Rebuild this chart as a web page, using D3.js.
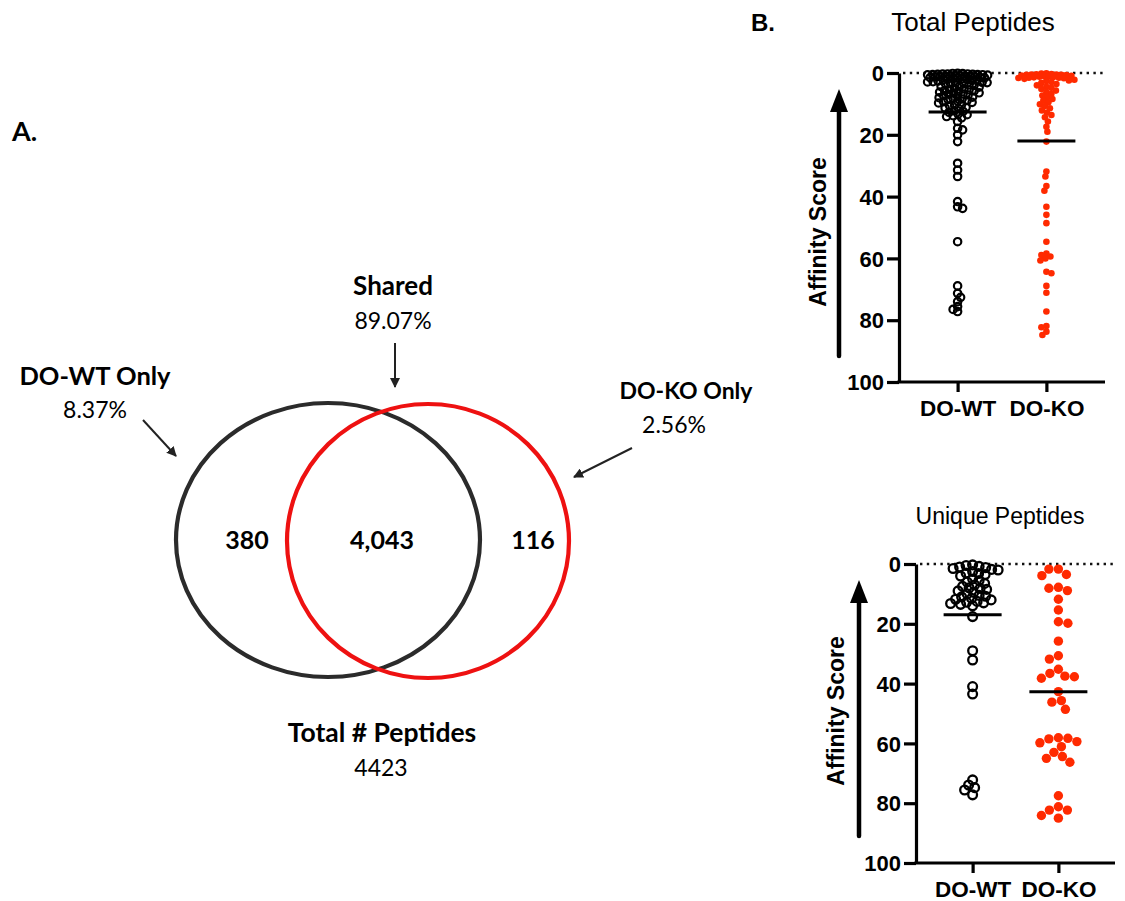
<!DOCTYPE html>
<html>
<head>
<meta charset="utf-8">
<script src="https://cdn.jsdelivr.net/npm/d3@7"></script>
<style>
  html, body { margin: 0; padding: 0; background: #fff; }
  svg { display: block; }
</style>
</head>
<body>
<svg id="chart" width="1125" height="901"></svg>
<script>
// ---------------- DATA ----------------
const groups = ["DO-WT", "DO-KO"];
const yTicks = [0, 20, 40, 60, 80, 100];

// Venn diagram (panel A)
const vennSets = ["DO-WT Only", "Shared", "DO-KO Only"];
const vennCounts = [380, 4043, 116];
const vennPercents = ["8.37%", "89.07%", "2.56%"];
const totalPeptides = 4423;

// Panel B – Total Peptides (affinity scores)
const totalWT = [0.2,0.3,0.4,0.5,0.6,0.7,0.8,0.9,1.0,0.1,0.5,0.3,0.15,0.35,0.55,0.75,0.95,0.45,
  1.1,1.2,1.3,1.5,1.6,1.8,1.9,1.4,1.7,1.2,
  2.0,2.2,2.4,2.6,2.8,2.1,2.5,2.9,
  3.0,3.2,3.4,3.6,3.8,3.1,3.5,
  4.0,4.3,4.6,4.9,4.4,
  5.1,5.4,5.7,5.9,5.3,5.8,
  6.2,6.5,6.8,6.4,6.9,
  7.1,7.5,7.8,7.3,
  8.2,8.6,8.9,8.4,8.0,
  9.3,9.7,9.1,9.5,
  10.2,10.6,10.4,
  11.1,11.5,11.3,
  12.2,12.7,12.4,
  13.3,13.8,13.5,
  14.5,14.1,
  15.7,17.9,18.4,20.0,22.2,29.2,31.4,33.5,41.6,43.3,43.8,54.6,68.9,71.3,72.6,74.0,75.6,76.5,77.2];
const totalKO = [0.2,0.4,0.6,0.8,0.3,0.5,0.7,0.9,0.1,0.5,1.0,0.6,
  1.1,1.3,1.5,1.7,1.9,1.2,1.6,1.4,1.5,
  2.2,2.6,2.9,2.4,
  3.2,3.6,4.0,4.5,4.8,
  5.2,5.7,6.2,6.7,
  7.3,7.8,8.4,8.9,
  9.5,10.1,10.7,
  11.4,12.1,12.8,
  13.6,14.3,
  15.7,17.4,19.0,22.2,31.9,33.5,36.6,38.1,43.3,45.9,48.6,54.6,58.4,58.9,59.4,60.0,60.7,
  64.3,64.8,68.9,71.1,77.2,81.9,82.3,83.7,84.8];

// Panel B – Unique Peptides (affinity scores)
const uniqueWT = [0.5,0.8,1.0,1.2,1.5,0.3,2.0,1.8,
  2.5,3.0,3.2,3.5,4.0,
  5.0,5.5,6.0,6.5,7.0,
  7.5,8.0,8.5,9.0,9.5,8.2,
  10.0,10.5,11.0,11.5,12.0,10.8,11.8,
  12.5,13.0,13.5,14.0,12.8,13.2,
  17.6,29.0,32.1,41.0,43.5,72.2,73.9,74.8,75.6,77.2];
const uniqueKO = [1.7,3.5,3.9,1.7,8.9,8.1,7.8,11.8,15.4,19.3,19.8,25.8,30.7,31.8,
  35.2,36.6,37.5,37.7,38.2,42.7,46.2,45.7,48.6,
  58.1,58.5,59.8,58.3,59.4,61.1,63.0,64.4,65.0,66.3,77.5,81.2,82.3,82.3,84.1,85.0];

// ---------------- DRAWING ----------------
const svg = d3.select("#chart");
const RED = "#ff2a00";
const VENN_RED = "#ee1111";
const VENN_BLACK = "#2b2b2b";
const vennFont = "Lato, 'Open Sans', sans-serif";
const plotFont = "'Liberation Sans', Arial, Helvetica, sans-serif";

// arrow marker
const defs = svg.append("defs");
defs.append("marker")
  .attr("id", "arrowHead").attr("viewBox", "0 0 10 10")
  .attr("refX", 9).attr("refY", 5)
  .attr("markerWidth", 5).attr("markerHeight", 5)
  .attr("markerUnits", "strokeWidth")
  .attr("orient", "auto")
  .append("path").attr("d", "M0,0 L10,5 L0,10 Z").attr("fill", "#222");

// ---------- Panel A: Venn ----------
svg.append("text").attr("x", 12).attr("y", 141)
  .attr("font-family", vennFont).attr("font-weight", 700).attr("font-size", 27)
  .text("A.");

const vennEllipses = [
  { cx: 328, cy: 540, rx: 152, ry: 137, color: VENN_BLACK },
  { cx: 428, cy: 541, rx: 141, ry: 137, color: VENN_RED }
];
svg.selectAll("ellipse.venn").data(vennEllipses).join("ellipse")
  .attr("class", "venn")
  .attr("cx", d => d.cx).attr("cy", d => d.cy)
  .attr("rx", d => d.rx).attr("ry", d => d.ry)
  .attr("fill", "none").attr("stroke", d => d.color).attr("stroke-width", 4.2);

const fmtCount = d3.format(",");
const countPos = [{ x: 247 }, { x: 382 }, { x: 533 }];
svg.selectAll("text.count").data(vennCounts).join("text")
  .attr("class", "count")
  .attr("x", (d, i) => countPos[i].x).attr("y", 549)
  .attr("text-anchor", "middle")
  .attr("font-family", vennFont).attr("font-weight", 700).attr("font-size", 25)
  .text(d => fmtCount(d));

const labelPos = [
  { x: 95, y: 385, py: 418, size: 25.5, arrow: [143, 420, 176, 456] },
  { x: 393, y: 295, py: 329, size: 26, arrow: [395, 343, 395, 387] },
  { x: 686, y: 399, py: 433, size: 23, arrow: [632, 448, 574, 477] }
];
vennSets.forEach((name, i) => {
  const p = labelPos[i];
  svg.append("text").attr("x", p.x).attr("y", p.y).attr("text-anchor", "middle")
    .attr("font-family", vennFont).attr("font-weight", 700).attr("font-size", p.size)
    .text(name);
  svg.append("text").attr("x", i === 2 ? p.x - 12 : p.x).attr("y", p.py).attr("text-anchor", "middle")
    .attr("font-family", vennFont).attr("font-weight", 400).attr("font-size", 23)
    .text(vennPercents[i]);
  svg.append("line")
    .attr("x1", p.arrow[0]).attr("y1", p.arrow[1]).attr("x2", p.arrow[2]).attr("y2", p.arrow[3])
    .attr("stroke", "#222").attr("stroke-width", 2)
    .attr("marker-end", "url(#arrowHead)");
});

svg.append("text").attr("x", 382).attr("y", 742).attr("text-anchor", "middle")
  .attr("font-family", vennFont).attr("font-weight", 700).attr("font-size", 26.5)
  .text("Total # Peptides");
svg.append("text").attr("x", 381).attr("y", 776).attr("text-anchor", "middle")
  .attr("font-family", vennFont).attr("font-weight", 400).attr("font-size", 23)
  .text(d3.format("d")(totalPeptides));

// ---------- Panel B ----------
svg.append("text").attr("x", 751).attr("y", 31)
  .attr("font-family", plotFont).attr("font-weight", 700).attr("font-size", 24)
  .text("B.");

// beeswarm: choose x offset closest to centre with no overlap, else best spread
function swarm(values, y, minDist, maxHalf) {
  const pts = values.map(v => ({ v, y: y(v) })).sort((a, b) => a.y - b.y || a.v - b.v);
  const placed = [];
  pts.forEach((p, idx) => {
    const sign = idx % 2 === 0 ? 1 : -1;
    let best = 0, bestScore = -1;
    for (let k = 0; k <= maxHalf * 2; k++) {
      for (const s of [sign, -sign]) {
        const x = s * k * 0.5;
        if (k === 0 && s === -sign) continue;
        let md = Infinity;
        for (const q of placed) {
          const dy = q.y - p.y;
          if (Math.abs(dy) >= minDist) continue;
          const d = Math.hypot(q.dx - x, dy);
          if (d < md) md = d;
        }
        const score = Math.min(md, minDist);
        if (score > bestScore + 1e-9) { bestScore = score; best = x; }
      }
      if (bestScore >= minDist) break;
    }
    p.dx = best;
    placed.push(p);
  });
  return pts;
}

function panel(cfg) {
  const y = d3.scaleLinear().domain([0, 100]).range([cfg.top, cfg.bottom]);
  const x = d3.scalePoint().domain(groups).range([cfg.left, cfg.right]).padding(0.66);
  const g = svg.append("g");

  // title
  g.append("text").attr("x", cfg.titleX).attr("y", cfg.titleY).attr("text-anchor", "middle")
    .attr("font-family", plotFont).attr("font-size", cfg.titleSize).text(cfg.title);

  // dotted reference line at 0
  g.append("line").attr("x1", cfg.left + 4).attr("x2", cfg.right)
    .attr("y1", y(0)).attr("y2", y(0))
    .attr("stroke", "#111").attr("stroke-width", 2.4)
    .attr("stroke-dasharray", "2.4,4.4");

  // y axis
  const yAxis = g.append("g").attr("transform", `translate(${cfg.left},0)`)
    .call(d3.axisLeft(y).tickValues(yTicks).tickSize(12).tickPadding(3).tickSizeOuter(0));
  yAxis.select(".domain").attr("stroke", "#000").attr("stroke-width", 3.2);
  yAxis.selectAll(".tick line").attr("stroke", "#000").attr("stroke-width", 3.2);
  yAxis.selectAll(".tick text").attr("font-family", plotFont).attr("font-weight", 700)
    .attr("font-size", 22).attr("fill", "#000").attr("dy", "0.35em");

  // x axis
  const xAxis = g.append("g").attr("transform", `translate(0,${cfg.bottom})`)
    .call(d3.axisBottom(x).tickSize(10).tickPadding(8).tickSizeOuter(0));
  xAxis.select(".domain").attr("stroke", "#000").attr("stroke-width", 3.2)
    .attr("d", `M${cfg.left - 1.6},0H${cfg.right}`);
  xAxis.selectAll(".tick line").attr("stroke", "#000").attr("stroke-width", 3.2);
  xAxis.selectAll(".tick text").attr("font-family", plotFont).attr("font-weight", 700)
    .attr("font-size", 22.5).attr("fill", "#000");

  // y label + arrow
  g.append("text")
    .attr("transform", `translate(${cfg.labelX},${cfg.labelY}) rotate(-90)`)
    .attr("text-anchor", "middle")
    .attr("font-family", plotFont).attr("font-weight", 700).attr("font-size", cfg.labelSize)
    .text("Affinity Score");
  g.append("line").attr("x1", cfg.arrowX).attr("x2", cfg.arrowX)
    .attr("y1", cfg.arrowBottom).attr("y2", cfg.arrowTip + 20)
    .attr("stroke", "#000").attr("stroke-width", 4.5).attr("stroke-linecap", "round");
  g.append("path")
    .attr("d", `M${cfg.arrowX},${cfg.arrowTip} L${cfg.arrowX + 9},${cfg.arrowTip + 23} L${cfg.arrowX - 9},${cfg.arrowTip + 23} Z`)
    .attr("fill", "#000");

  // WT points (open black circles)
  const wt = swarm(cfg.wt, y, cfg.wtDist, cfg.wtHalf);
  g.append("g").selectAll("circle").data(wt).join("circle")
    .attr("cx", d => x("DO-WT") + d.dx).attr("cy", d => d.y).attr("r", cfg.wtR)
    .attr("fill", "none").attr("stroke", "#000").attr("stroke-width", cfg.wtStroke);

  // KO points (filled red)
  const ko = swarm(cfg.ko, y, cfg.koDist, cfg.koHalf);
  g.append("g").selectAll("circle").data(ko).join("circle")
    .attr("cx", d => x("DO-KO") + d.dx).attr("cy", d => d.y).attr("r", cfg.koR)
    .attr("fill", RED);

  // mean lines
  const means = [{ g: "DO-WT", m: d3.mean(cfg.wt) }, { g: "DO-KO", m: d3.mean(cfg.ko) }];
  g.selectAll("line.mean").data(means).join("line").attr("class", "mean")
    .attr("x1", d => x(d.g) - 29).attr("x2", d => x(d.g) + 29)
    .attr("y1", d => y(d.m)).attr("y2", d => y(d.m))
    .attr("stroke", "#000").attr("stroke-width", 3);
}

panel({
  title: "Total Peptides", titleX: 973, titleY: 31, titleSize: 26,
  top: 73, bottom: 382, left: 899, right: 1105,
  labelX: 826, labelY: 232, labelSize: 23,
  arrowX: 839, arrowTip: 89, arrowBottom: 356,
  wt: totalWT, wtR: 3.7, wtStroke: 2.2, wtDist: 4.9, wtHalf: 30,
  ko: totalKO, koR: 3.3, koDist: 5.0, koHalf: 28
});

panel({
  title: "Unique Peptides", titleX: 1000, titleY: 524, titleSize: 23,
  top: 564, bottom: 863, left: 916, right: 1115,
  labelX: 844, labelY: 711, labelSize: 23,
  arrowX: 859, arrowTip: 580, arrowBottom: 836,
  wt: uniqueWT, wtR: 4.4, wtStroke: 2.3, wtDist: 6.2, wtHalf: 31,
  ko: uniqueKO, koR: 4.7, koDist: 9.4, koHalf: 40
});
</script>
</body>
</html>
